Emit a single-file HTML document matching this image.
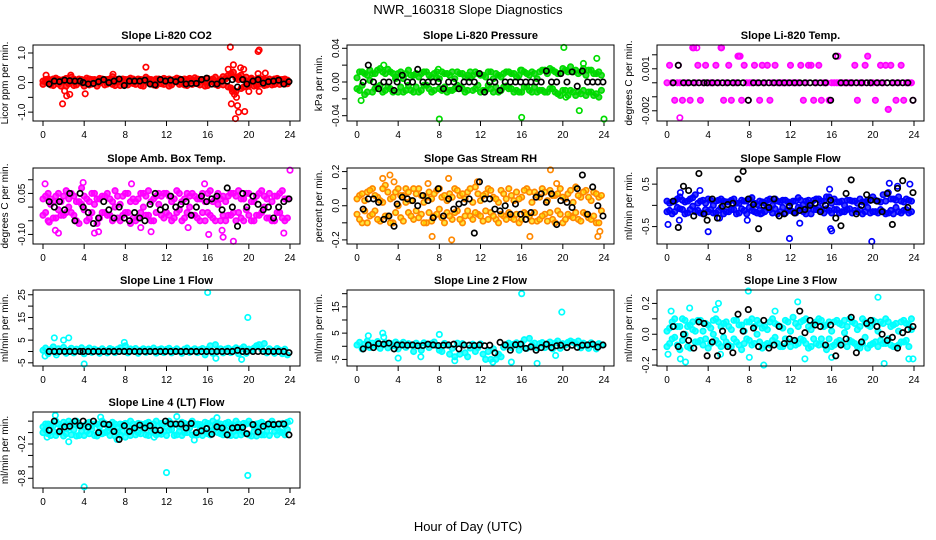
<!DOCTYPE html>
<html><head><meta charset="utf-8"><style>
html,body{margin:0;padding:0;background:#fff;}
svg{display:block;font-family:"Liberation Sans",sans-serif;}
</style></head><body>
<svg id="chart" width="936" height="540" viewBox="0 0 936 540" xmlns="http://www.w3.org/2000/svg">
<rect width="936" height="540" fill="#fff"/>
<text x="468" y="14" text-anchor="middle" font-size="13">NWR_160318  Slope Diagnostics</text>
<text x="468" y="531" text-anchor="middle" font-size="13">Hour of Day (UTC)</text>
</svg>
<script>
const hours96=[0,0.25,0.5,0.75,1,1.25,1.5,1.75,2,2.25,2.5,2.75,
3,3.25,3.5,3.75,4,4.25,4.5,4.75,5,5.25,5.5,5.75,
6,6.25,6.5,6.75,7,7.25,7.5,7.75,8,8.25,8.5,8.75,
9,9.25,9.5,9.75,10,10.25,10.5,10.75,11,11.25,11.5,11.75,
12,12.25,12.5,12.75,13,13.25,13.5,13.75,14,14.25,14.5,14.75,
15,15.25,15.5,15.75,16,16.25,16.5,16.75,17,17.25,17.5,17.75,
18,18.25,18.5,18.75,19,19.25,19.5,19.75,20,20.25,20.5,20.75,
21,21.25,21.5,21.75,22,22.25,22.5,22.75,23,23.25,23.5,23.75];
const hours48=[0.6,1.1,1.6,2.1,2.6,3.1,3.6,3.9,4.4,4.9,5.4,5.9,
6.4,6.9,7.4,7.9,8.4,8.9,9.4,9.9,10.4,10.9,11.4,11.9,
12.4,12.9,13.4,13.9,14.4,14.9,15.4,15.9,16.4,16.9,17.4,17.9,
18.4,18.9,19.4,19.8,20.4,20.9,21.4,21.9,22.4,22.9,23.4,23.9];
const xTicks=[0,4,8,12,16,20,24];

// Panel 1 CO2
const co2A=[.05,.1,.02,-.08,.12,.15,-.05,.08,.1,-.12,.04,.18,
-.1,.06,.12,-.02,.08,.15,-.08,.1,.05,-.12,.14,.06,
.1,-.05,.12,.2,-.1,.08,.03,.12,-.06,.1,.15,-.03,
.08,.12,-.1,.05,.18,.02,.1,-.08,.12,.06,-.04,.14,
.1,-.12,.08,.04,.15,-.06,.1,.12,-.1,.05,.08,.16,
-.04,.1,.06,-.12,.14,.08,.02,.18,-.1,.06,.2,.12,
-.15,.3,-.25,.15,.2,-.2,.1,.18,-.05,.12,.08,-.1,
.15,.05,.1,-.08,.12,.06,-.06,.14,.1,.02,-.05,.08];
const co2B=[-.06,.02,.12,.08,-.1,.04,.1,-.12,.06,.14,-.04,.02,
.12,-.08,.04,.1,-.12,.02,.12,-.05,.1,.08,-.02,.12,
-.08,.1,.04,-.06,.12,.02,-.1,.06,.1,-.08,.02,.12,
-.06,.04,.1,-.12,.06,.12,-.04,.08,-.1,.12,.1,-.06,
.04,.12,-.08,.1,.02,.12,-.04,-.08,.1,.14,-.06,.04,
.12,-.08,.1,.02,-.1,.06,.12,-.06,.04,.1,-.08,.14,
.25,-.18,.35,-.3,.1,.25,-.15,.05,-.1,.15,-.12,.1,
-.06,.12,-.1,.08,.02,-.08,.12,.04,-.06,.1,.12,-.04];
const co2OutH=[0.3,1.9,2.1,2.3,2.6,2.7,4.1,6.8,10.0,18.2,18.3,18.5,18.0,18.6,18.7,18.9,19.0,19.2,19.6,19.5,20.0,20.9,21.0,20.9,21.0,21.6,18.4,18.8];
const co2OutV=[.25,-.72,-.28,-.45,-.4,.25,-.38,.28,.52,1.2,-.72,.6,.45,-.4,-1.22,-.78,-1.0,.5,-.98,.45,-.3,1.05,1.1,.3,-.3,.32,-.3,-.5];
const co2Blk=[-.05,.05,.03,.08,.06,.05,.05,.0,-.05,-.03,.03,.1,
.0,.05,.12,-.1,.05,.05,.05,.08,-.05,-.08,.1,.05,
.08,.03,.1,-.05,-.03,-.03,.1,.15,-.05,-.05,.05,.05,
.1,-.15,.1,-.05,.05,.1,-.02,.03,.05,.08,-.05,.03];

// Panel 2 Pressure
const prsA=[.005,-.01,.012,-.015,.008,.014,-.012,.01,-.006,.016,.012,-.01,
.015,-.008,.01,.006,-.012,.012,.004,-.01,.014,.008,-.012,.01,
.006,-.01,.012,-.004,.008,-.012,.01,.005,-.008,.012,-.006,.01,
.008,-.01,.004,.012,-.006,.01,-.012,.008,.005,-.01,.012,-.004,
.008,-.01,.006,.012,-.008,.004,.01,-.012,.006,.01,-.005,.012,
-.008,.01,.006,-.012,.014,-.006,.01,.008,-.012,.01,.004,-.01,
.014,-.012,.01,.016,-.008,.012,-.014,.01,.016,-.01,.012,.018,
-.012,.014,.01,-.014,.016,.008,-.012,.014,.01,-.014,.012,-.01];
const prsB=[-.008,.012,-.004,.01,-.012,.002,.01,-.008,.014,-.004,-.012,.01,
-.006,.012,-.012,.004,.01,-.006,-.012,.01,-.004,-.01,.008,-.006,
-.012,.01,-.004,.012,-.008,.006,-.01,.012,.004,-.01,.01,-.012,
-.01,.012,-.008,-.004,.01,-.008,.006,-.01,.012,.008,-.008,.01,
-.012,.008,-.01,-.004,.012,-.012,-.006,.008,-.01,-.006,.012,-.008,
.01,-.012,-.01,.008,-.012,.012,-.006,-.01,.012,-.006,-.012,.012,
-.01,.014,-.012,-.008,.014,-.012,.01,-.016,-.01,.014,-.016,-.01,
.012,-.016,-.012,.012,-.01,-.016,.014,-.012,-.016,.01,-.018,.008];
const prsOutH=[0.4,8.0,16.0,20.1,20.3,21.6,23.3,24.0,22.0,2.6,7.9,15.9];
const prsOutV=[-.022,-.044,-.042,.041,-.018,-.034,.028,-.044,.022,.02,.015,.014];
const prsBlk=[.0,.02,.0,-.008,.0,.0,-.01,.0,.008,.0,.0,.015,
.0,.0,.0,.0,-.008,.0,.0,-.008,.0,.0,.0,.01,
-.012,.0,.0,-.01,.0,.0,.0,.0,.0,.0,.0,.0,
.013,.0,.0,.01,.0,.012,-.005,.013,.0,.0,.0,.0];

// Panel 3 Temp
const tmpA=[0,.00125,0,-.00125,0,0,-.00125,0,0,-.00125,.0025,0,
.00125,-.00125,0,.00125,0,0,0,.00125,0,.0025,-.00125,0,
.00125,-.00125,0,0,.0019,-.00125,.00125,0,0,0,.00125,0,
-.00125,.00125,0,.00125,-.00125,0,.00125,0,0,0,0,0,
.00125,0,0,0,.00125,-.00125,0,.00125,.00125,-.00125,0,.00125,
-.00125,0,0,-.00125,0,0,0,0,0,0,0,0,
0,.00125,-.00125,0,0,.00125,.0019,0,0,-.00125,0,.00125,
0,.00125,-.0019,.00125,0,-.00125,0,.00125,-.00125,0,0,0];
const tmpOutH=[1.25,1.1,2.6,2.9,5.3,16.6,7.9,15.8,23.9,21.5,6.9,7.1];
const tmpOutV=[-.0025,.00125,.0025,.0025,.0025,.0019,-.00125,-.00125,-.00125,-.0019,.0019,.0019];
const tmpBlk=[0,.00125,0,0,0,0,0,0,0,0,0,0,
0,0,0,-.00125,0,0,0,0,0,0,0,0,
0,0,0,0,0,0,0,-.00125,.0019,0,0,0,
0,0,0,0,0,0,0,0,0,0,0,-.00125];

// Panel 4 Amb box temp
const ambA=[.03,-.02,.05,.01,-.04,.04,-.01,.02,-.03,.06,.0,-.02,
.04,-.05,.02,.07,-.01,.03,-.04,.05,.01,-.06,.03,.04,
-.02,.05,-.03,.02,.06,-.04,.01,.04,-.02,.05,-.06,.03,
.02,-.04,.05,.0,-.03,.06,.02,-.05,.04,.01,-.03,.05,
-.02,.04,-.05,.03,.06,-.01,.02,-.04,.05,.0,-.03,.04,
.03,-.05,.05,.02,-.02,.06,-.04,.03,.01,-.05,.04,.02,
-.03,.05,-.02,.04,.06,-.04,.03,-.01,.05,-.05,.02,.04,
-.03,.06,.0,-.04,.05,.02,-.05,.04,-.02,.06,.03,-.04];
const ambB=[-.03,.04,-.05,.03,.02,-.04,.05,-.03,.04,-.02,.03,.05,
-.03,.02,-.06,.01,.04,-.05,.02,-.02,.05,.03,-.04,-.02,
.04,-.03,.03,-.05,.0,.04,-.05,-.03,.05,-.02,.02,-.04,
-.05,.03,-.02,.05,.04,-.03,-.05,.03,-.02,.05,.04,-.04,
.05,-.03,.02,-.04,-.02,.05,-.05,.03,-.02,.04,.05,-.03,
-.04,.03,-.02,-.05,.05,-.03,.02,-.05,.05,.03,-.03,-.05,
.04,-.03,.05,-.05,-.02,.03,-.05,.05,-.03,.02,-.05,-.03,
.05,-.02,.04,.03,-.04,-.05,.04,-.02,.05,-.04,-.05,.03];
const ambOutH=[0.2,1.2,1.5,3.9,5.0,5.4,8.6,10.5,15.7,16.1,17.5,17.4,18.5,23.4,24.0,0.6,9.5,14.1];
const ambOutV=[.085,-.085,-.095,.09,-.095,-.09,.085,-.09,.085,-.1,-.11,-.085,-.125,-.095,.135,-.055,-.075,-.075];
const ambBlk=[.02,.0,.02,-.01,.05,-.05,.05,.0,-.02,-.06,-.04,.02,
-.01,-.04,.0,-.04,-.05,-.02,-.04,-.05,.01,.05,-.01,.0,
.04,.0,.01,.02,-.03,.0,.04,.02,.03,.04,-.01,.07,
.0,-.07,.05,.0,.04,.01,-.01,.0,-.04,.0,.02,.03];

// Panel 5 Gas stream RH
const rhA=[-.05,.06,-.1,.03,.08,-.06,.1,-.03,.05,-.09,.02,.12,
-.06,.04,-.1,.08,.0,-.07,.06,.1,-.04,.03,-.08,.07,
.1,-.05,.02,-.1,.08,.04,-.06,.09,-.02,.05,-.1,.03,
.07,-.08,.1,-.03,.06,-.1,.04,.08,-.06,.02,.11,-.05,
.03,-.09,.07,.1,-.04,.05,-.08,.02,.09,-.06,.04,.1,
-.07,.03,.08,-.1,.05,-.04,.1,-.06,.02,.08,-.09,.05,
.1,-.05,.03,.09,-.08,.06,-.03,.1,-.1,.04,.07,-.06,
.02,.11,-.08,.05,-.04,.09,-.07,.03,.08,-.1,.05,-.03];
const rhB=[.04,-.08,.07,-.03,-.1,.09,-.05,.06,-.08,.03,.1,-.06,
.08,-.1,.05,-.04,.1,.06,-.09,.02,.08,-.06,.1,-.03,
-.07,.06,-.1,.05,-.04,-.09,.07,-.05,.1,-.07,.06,-.04,
-.06,.05,-.04,.09,-.08,.07,-.06,-.03,.1,-.08,-.04,.07,
-.06,.06,-.03,-.08,.09,-.06,.04,-.1,-.05,.07,-.08,-.04,
.06,-.08,-.05,.04,-.08,.09,-.05,.08,-.09,-.04,.06,-.08,
-.06,.08,-.09,-.04,.06,-.1,.07,-.05,.05,-.08,-.05,.09,
-.07,-.04,.06,-.09,.08,-.05,.05,-.08,-.06,.07,-.1,.06];
const rhOutH=[2.5,3.2,7.3,8.9,9.2,11.7,16.8,18.8,19.4,23.4,23.6,3.6,6.9];
const rhOutV=[.16,.18,-.18,.16,-.2,.14,-.18,.21,.13,-.18,-.15,.14,.13];
const rhBlk=[-.02,.04,.04,.02,-.08,-.06,-.12,.01,.05,.04,.03,.0,
.06,.03,-.07,.1,-.06,.04,-.02,.01,.02,.04,-.16,.14,
.04,.04,-.02,-.03,.0,-.05,.01,-.05,-.08,-.04,.05,.07,
.02,.07,-.11,.03,.02,-.01,.1,.18,-.05,.11,.0,-.06];

// Panel 6 Sample flow
const smpA=[-.15,.05,-.2,.1,-.05,.2,-.1,.08,-.18,.15,-.02,.25,
-.12,.1,-.2,.05,.15,-.1,.0,-.18,.12,-.05,.1,-.15,
.08,-.1,.15,-.2,.05,.12,-.12,.1,-.05,.18,-.15,.02,
.1,-.18,.05,.12,-.1,.0,.15,-.2,.08,-.05,.12,-.12,
.05,-.15,.1,.18,-.08,.02,-.2,.12,.05,-.1,.15,-.05,
.1,-.18,.2,-.12,.05,.15,-.1,.08,-.15,.0,.12,-.08,
.1,-.12,.05,.15,-.2,.08,-.05,.12,.2,-.15,.1,-.1,
.25,-.2,.3,-.12,.15,-.05,.2,-.18,.08,-.1,.12,-.15];
const smpB=[.1,-.12,.08,-.15,.15,-.08,.12,-.2,.1,-.1,.18,-.15,
.05,-.18,.12,-.1,-.15,.12,-.18,.1,-.12,.15,-.2,.08,
-.15,.12,-.1,.05,-.18,-.08,.1,-.2,.15,-.12,.05,-.18,
-.12,.08,-.15,-.05,.15,-.18,-.08,.1,-.15,.12,-.18,.08,
-.12,.1,-.18,-.05,.12,-.15,.1,-.08,-.2,.12,-.1,.15,
-.12,.1,-.08,.2,-.18,-.1,.08,-.18,.1,-.15,-.1,.12,
-.18,.1,-.15,-.1,.08,-.15,.12,-.18,-.15,.12,-.18,.08,
-.15,.1,-.18,.15,-.2,.12,-.15,.1,-.12,.15,-.18,.1];
const smpOutH=[0.1,1.2,1.3,4.0,3.2,5.1,7.8,11.9,16.0,15.9,19.9,21.6,22.4,23.6,12.9,9.1,15.8];
const smpOutV=[-.45,-.35,.3,-.62,.35,-.3,-.35,-.78,-.6,-.55,-.85,.52,.45,.5,-.42,-.2,.38];
const smpBlk=[.1,-.52,.45,.35,-.25,.75,-.2,-.35,.15,-.3,-.02,.02,
.05,.62,.8,.15,.02,-.55,.0,-.05,.15,-.25,-.2,-.02,
-.18,-.12,-.1,.0,.05,-.15,.0,.12,-.3,-.48,.28,.6,
-.2,.0,.25,.12,.1,-.15,.28,-.45,.4,.58,-.05,.3];

// Panel 7 Line 1 flow
const l1A=[0.5,1.5,-1,0.8,2,-0.5,1.2,0.3,1.8,-0.8,0.6,1.4,
-0.6,1,0.2,1.6,-1,0.8,1.5,-0.4,1,0.5,-0.8,1.2,
0.4,-0.6,1.3,0.8,-0.5,1,1.6,0.2,2.5,-0.6,1.1,0.4,
1.3,-0.8,0.6,1.2,-0.4,1,0.3,1.5,-0.7,0.8,1.2,-0.5,
0.9,1.4,-0.6,0.5,1.2,0.2,-0.8,1,1.5,-0.4,0.6,1.2,
-0.5,0.8,1.3,-1.5,1,2.5,-0.8,3,0.5,1.2,-0.6,1,
1.4,-0.5,0.8,1.6,-1,1.2,2,-0.8,1,0.5,1.5,2.5,
3,1,3.5,-0.6,1.2,0.4,-0.8,1.3,0.6,-1,1,-1.5];
const l1OutH=[0.2,1.1,1.3,2.0,2.5,4.0,16.0,16.8,19.3,19.9,7.9];
const l1OutV=[-2,6,-1.5,5,6,-5.5,26,-3,-3.5,15,4];
const l1Blk=[0,0,0,0,0,0,0,0,0,0,0,0,
0,0,0,0,0,0,0,0,0,0,0,0,
0,0,0,0,0,0,0,0,0,0,0,0,
0,0.5,0,0,0,0,0,0,0,0,0,-0.5];

// Panel 8 Line 2 flow
const l2A=[0.5,1.5,-1,0.8,2,-0.5,1.2,0.3,1.8,-0.8,0.6,1.4,
-0.6,1,0.2,1.6,-1,0.8,1.5,-0.4,1,0.5,-2,1.2,
0.4,-1.5,1.3,0.8,-0.5,1,1.6,0.2,-1.5,-2,1.1,0.4,
-3,-0.8,-4,1.2,-3,1,-2.5,-4,-0.7,0.8,-2,-0.5,
0.9,-3,-5,-2,-5,-1,-5,-3,-4,-0.4,0.6,1.2,
-0.5,0.8,1.3,-1.5,1,2.5,-0.8,3,0.5,1.2,-0.6,1,
1.4,-0.5,0.8,1.6,-1,1.2,2,-0.8,1,0.5,1.5,2,
1.5,1,2,-0.6,1.2,0.4,-0.8,1.3,0.6,-1,1,0.5];
const l2OutH=[1.1,2.5,2.6,4.0,8.0,15.0,16.0,17.5,19.3,19.9,6.2,9.5,13.2];
const l2OutV=[4,5,3.5,-4.5,4.5,-6,20,-6.5,-3.5,13,-4,-5.5,-6];
const l2Blk=[-1,0.5,-0.5,1,0.8,1.2,-1,0.5,0.5,0.4,0.5,0.2,
0.3,0.8,0.5,0.3,0.4,0.5,0.8,-1,0.5,0.4,0.3,0.5,
0.2,0.4,-2.5,1.5,0.5,-1.5,0.6,0.8,-0.8,-0.2,-1.5,-0.5,
0.8,-0.5,0.2,0.4,-0.5,0.4,-0.4,0.4,0.5,0.8,-0.3,0.5];

// Panel 9 Line 3 flow
const l3A=[.02,-.06,.08,-.02,.05,-.1,.1,.0,-.08,.06,.03,-.05,
.09,-.04,.02,.07,-.09,.04,.0,.1,-.06,.05,-.02,.08,
-.07,.03,.09,-.05,.06,-.1,.02,.08,-.04,.1,-.06,.0,
.07,-.09,.05,.03,-.07,.1,-.02,.06,-.08,.04,.09,-.05,
.02,.11,-.07,.05,.08,-.04,.1,-.09,.03,.07,-.06,.1,
-.03,.05,-.1,.08,.02,-.07,.09,-.04,.06,.01,-.08,.1,
-.05,.07,.03,-.09,.1,-.02,.06,-.07,.09,-.05,.02,.08,
-.06,.1,-.03,.05,-.08,.07,.02,-.05,.09,-.04,.06,.03];
const l3B=[-.08,.04,-.03,.1,-.07,.05,-.04,.09,.05,-.09,.08,.02,
-.05,.09,-.07,-.03,.06,-.06,.09,-.04,.08,-.08,.07,-.05,
.05,-.08,-.03,.09,-.07,.06,-.06,-.03,.08,-.07,.05,.09,
-.05,.04,-.07,-.06,.08,-.04,.07,-.06,.05,-.08,-.03,.08,
-.08,-.04,.07,-.06,-.03,.09,-.06,.05,-.08,-.03,.08,-.07,
.09,-.07,.06,-.03,-.08,.08,-.05,.07,-.06,.09,.05,-.04,
.08,-.06,-.08,.05,-.06,.08,-.09,.05,-.06,.08,-.08,-.04,
.07,-.06,.08,-.07,.06,-.08,-.07,.08,-.05,.07,-.08,.1];
const l3OutH=[0.1,0.4,1.3,1.8,2.2,4.7,5.0,7.9,8.0,9.4,10.5,12.7,13.4,20.5,21.1,23.5,23.9,5.2,16.0];
const l3OutV=[-.13,.15,-.16,-.18,.17,.16,.2,.28,-.15,-.2,.15,.21,-.16,.24,-.19,-.16,-.16,-.13,-.15];
const l3Blk=[.05,-.08,.0,-.04,-.09,.08,.07,-.14,-.05,-.14,.02,-.08,
-.12,.13,.02,.16,.04,-.08,.09,-.09,-.07,.05,-.06,-.03,
-.04,.15,.01,.09,.06,.05,-.07,.06,-.14,-.07,-.03,.11,
-.12,-.05,.07,.09,.05,.0,-.04,-.02,-.09,.01,.03,.05];

// Panel 10 Line 4 flow
const l4A=[.1,.05,.15,-.05,.12,.2,.0,.1,.18,-.02,.08,.15,
.05,.2,-.05,.12,.1,.02,.18,.06,-.05,.15,.1,.2,
.0,.12,.08,.18,-.06,.1,.15,.02,-.08,.12,.2,.05,
.1,.0,.15,.08,-.04,.18,.1,.05,.2,.12,-.03,.15,
.1,.2,.05,-.05,.15,.1,.18,.0,.12,.08,.2,-.04,
.15,.05,.1,.18,-.02,.12,.2,.08,.0,.15,.1,.05,
.18,-.05,.12,.2,.06,.1,.0,.15,.2,-.06,.1,.15,
.05,.18,-.04,.12,.1,.2,.02,.08,.15,.0,.12,.18];
const l4B=[.0,.15,-.02,.12,.02,-.05,.15,.05,-.06,.14,.2,-.04,
.15,-.06,.12,.02,-.05,.16,-.02,.12,.15,-.06,.02,-.02,
.16,.02,-.05,.05,.15,.0,-.04,.14,.16,.0,-.05,.15,
-.04,.16,-.02,.14,.16,-.05,.02,.15,-.04,-.02,.16,.02,
-.05,.04,.16,.14,-.04,.02,-.05,.16,.0,.15,-.04,.14,
-.04,.14,-.05,.02,.16,-.04,.02,.14,.16,-.02,-.04,.16,
-.04,.14,.02,-.05,.15,-.04,.16,-.02,-.04,.15,.02,-.06,
.16,-.04,.14,.02,-.05,.15,.14,-.04,.02,.16,-.04,.05];
const l4OutH=[1.2,0.4,2.5,4.0,12.0,19.9,5.6,7.2,10.8,13.0,16.9,21.0,24.0,14.7];
const l4OutV=[.3,-.08,-.16,-.95,-.7,-.75,.27,-.12,-.08,.28,.26,.02,.2,-.13];
const l4Blk=[.04,.2,.02,.1,.11,.2,.12,.2,.1,.2,.0,.15,
.14,.02,-.12,.12,.02,.08,.13,.08,.12,.04,.04,.2,
.15,.15,.15,.08,.16,.0,.03,.07,-.03,.1,.08,-.04,
.08,.09,.09,-.02,.14,.01,.11,.15,.14,.15,.15,-.04];

const svg=document.getElementById('chart');
const NS='http://www.w3.org/2000/svg';
function mk(tag,attrs,parent){const e=document.createElementNS(NS,tag);for(const k in attrs)e.setAttribute(k,attrs[k]);(parent||svg).appendChild(e);return e;}

const colL=[33,347,657], rowT=[45,168,290,412], W=267, H=76;
const panels=[
 {name:'co2',title:'Slope Li-820 CO2',ylab:'Licor ppm per min.',col:0,row:0,ymin:-1.3,ymax:1.27,ticks:[-1,-.5,0,.5,1],labels:['-1.0','','0.0','','1.0'],color:'#ff0000',fill:'#ff0000',clouds:[co2A,co2B],oh:co2OutH,ov:co2OutV,blk:co2Blk},
 {name:'pressure',title:'Slope Li-820 Pressure',ylab:'kPa per min.',col:1,row:0,ymin:-.0463,ymax:.0439,ticks:[-.04,-.02,0,.02,.04],labels:['-0.04','','0.00','','0.04'],color:'#00dd00',fill:'#00cc00',clouds:[prsA,prsB],oh:prsOutH,ov:prsOutV,blk:prsBlk},
 {name:'temp',title:'Slope Li-820 Temp.',ylab:'degrees C per min.',col:2,row:0,ymin:-.00273,ymax:.0027,ticks:[-.002,-.001,0,.001,.002],labels:['-0.002','','','0.001',''],color:'#ff00ff',fill:'#ff00ff',clouds:[tmpA],oh:tmpOutH,ov:tmpOutV,blk:tmpBlk},
 {name:'amb-box-temp',title:'Slope Amb. Box Temp.',ylab:'degrees C per min.',col:0,row:1,ymin:-.135,ymax:.143,ticks:[-.1,-.05,0,.05,.1],labels:['-0.10','','','0.05',''],color:'#ff00ff',fill:'#ff00ff',clouds:[ambA,ambB],oh:ambOutH,ov:ambOutV,blk:ambBlk},
 {name:'gas-rh',title:'Slope Gas Stream RH',ylab:'percent per min.',col:1,row:1,ymin:-.224,ymax:.221,ticks:[-.2,-.1,0,.1,.2],labels:['-0.2','','0.0','','0.2'],color:'#ff8800',fill:'#ffdd00',clouds:[rhA,rhB],oh:rhOutH,ov:rhOutV,blk:rhBlk},
 {name:'sample-flow',title:'Slope Sample Flow',ylab:'ml/min per min.',col:2,row:1,ymin:-.91,ymax:.88,ticks:[-.5,0,.5],labels:['-0.5','','0.5'],color:'#0000ff',fill:'#0000ff',clouds:[smpA,smpB],oh:smpOutH,ov:smpOutV,blk:smpBlk},
 {name:'line1-flow',title:'Slope Line 1 Flow',ylab:'ml/min per min.',col:0,row:2,ymin:-6.4,ymax:27.1,ticks:[-5,0,5,10,15,20,25],labels:['-5','','5','','15','','25'],color:'#00ffff',fill:'#00ffff',clouds:[l1A],oh:l1OutH,ov:l1OutV,blk:l1Blk},
 {name:'line2-flow',title:'Slope Line 2 Flow',ylab:'ml/min per min.',col:1,row:2,ymin:-7.5,ymax:21.4,ticks:[-5,0,5,10,15,20],labels:['-5','','5','','15',''],color:'#00ffff',fill:'#00ffff',clouds:[l2A],oh:l2OutH,ov:l2OutV,blk:l2Blk},
 {name:'line3-flow',title:'Slope Line 3 Flow',ylab:'ml/min per min.',col:2,row:2,ymin:-.206,ymax:.287,ticks:[-.2,-.1,0,.1,.2],labels:['-0.2','','0.0','','0.2'],color:'#00ffff',fill:'#00ffff',clouds:[l3A,l3B],oh:l3OutH,ov:l3OutV,blk:l3Blk},
 {name:'line4-flow',title:'Slope Line 4 (LT) Flow',ylab:'ml/min per min.',col:0,row:3,ymin:-.97,ymax:.36,ticks:[-.8,-.6,-.4,-.2,0,.2],labels:['-0.8','','','-0.2','',''],color:'#00ffff',fill:'#00ffff',clouds:[l4A,l4B],oh:l4OutH,ov:l4OutV,blk:l4Blk}
];

panels.forEach(p=>{
  const L=colL[p.col],T=rowT[p.row];
  const xs=h=>L+10+h*(247/24);
  const ys=v=>T+H-(v-p.ymin)/(p.ymax-p.ymin)*H;
  const g=mk('g',{});
  
  
  const t=mk('text',{x:L+W/2,y:T-6,'text-anchor':'middle','font-size':'11','font-weight':'bold'},g);
  
  
  t.textContent=p.title;
  const yl=mk('text',{x:0,y:0,transform:`translate(${L-25},${T+H/2}) rotate(-90)`,'text-anchor':'middle','font-size':'10'},g);
  
  
  yl.textContent=p.ylab;
  xTicks.forEach(h=>{
    const x=xs(h);
    const tk=mk('line',{x1:x,x2:x,y1:T+H,y2:T+H+5,stroke:'#000','stroke-width':1},g);
    
    
    const lb=mk('text',{x:x,y:T+H+17,'text-anchor':'middle','font-size':'10'},g);
    
    
    lb.textContent=h;
  });
  p.ticks.forEach((v,i)=>{
    const y=ys(v);
    const tk=mk('line',{x1:L-5,x2:L,y1:y,y2:y,stroke:'#000','stroke-width':1},g);
    
    
    if(p.labels[i]){
      const lb=mk('text',{x:0,y:0,transform:`translate(${L-8},${y}) rotate(-90)`,'text-anchor':'middle','font-size':'10'},g);
      
      
      lb.textContent=p.labels[i];
    }
  });
  const clip='clip-'+p.name;
  const cp=mk('clipPath',{id:clip},g);
  mk('rect',{x:L,y:T-3,width:W,height:H+6},cp);
  const pg=mk('g',{'clip-path':`url(#${clip})`},g);
  const dot=(h,v,col,fill,op)=>{
    const c=mk('circle',{cx:xs(h),cy:ys(v),r:2.7,fill:fill||'none','fill-opacity':op||1,stroke:col,'stroke-width':1.7},pg);
    return c;
  };
  p.clouds.forEach(arr=>arr.forEach((v,i)=>{
    if(hours96[i]===undefined)return;
    const c=dot(hours96[i],v,p.color,p.fill,0.75);
    
    
  }));
  p.oh.forEach((h,i)=>{
    const c=dot(h,p.ov[i],p.color);
    
    
  });
  p.blk.forEach((v,i)=>{
    if(hours48[i]===undefined)return;
    const c=dot(hours48[i],v,'#000');
    
    
  });
  const box=mk('rect',{x:L,y:T,width:W,height:H,fill:'none',stroke:'#000','stroke-width':1},g);
  
  
});
</script>
</body></html>
